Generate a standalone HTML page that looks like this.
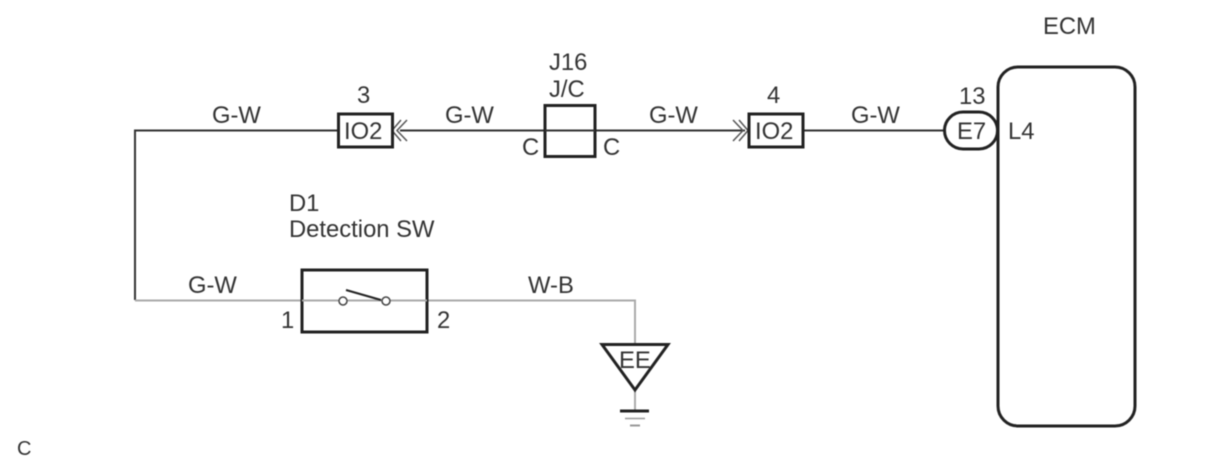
<!DOCTYPE html>
<html><head><meta charset="utf-8"><style>
html,body{margin:0;padding:0;background:#fff}
svg{display:block;filter:blur(0.45px)}
text{font-family:"Liberation Sans",sans-serif;font-size:23.8px;fill:#333}
</style></head><body>
<svg width="1210" height="466" viewBox="0 0 1210 466" xmlns="http://www.w3.org/2000/svg">
<g fill="none" stroke="#333" stroke-width="2">
<path d="M338 130.500H135V300"/>
<path d="M400 130.500H545M595 130.500H745"/>
<path d="M803 130.500H944"/>
</g>
<g fill="none" stroke="#aaa" stroke-width="2">
<path d="M135 300.500H302M427 300.500H635V345"/>
<path d="M635 390V410"/>
</g>
<g fill="none" stroke="#555" stroke-width="1.500">
<path d="M407 120L397 130.500L407 141M401 120L392 130.500L401 141"/>
<path d="M733 120L743 130.500L733 141M739 120L748 130.500L739 141"/>
</g>
<rect x="944.500" y="112" width="53" height="37" rx="18.500" fill="#fff" stroke="#222" stroke-width="3"/>
<g fill="none" stroke="#222" stroke-width="3">
<rect x="338.500" y="114" width="54" height="33" fill="#fff"/>
<rect x="749" y="114" width="54" height="33" fill="#fff"/>
<rect x="998" y="67" width="137" height="359" rx="20"/>
</g>
<rect x="545" y="105.500" width="50" height="51" fill="none" stroke="#222" stroke-width="3"/>
<path d="M545 130.500H595" stroke="#333" stroke-width="2"/>
<rect x="302" y="270" width="125" height="62" fill="none" stroke="#222" stroke-width="3"/>
<path d="M302 300.500H427" stroke="#aaa" stroke-width="2"/>
<circle cx="343" cy="301" r="4" fill="#fff" stroke="#444" stroke-width="1.500"/>
<circle cx="386" cy="301" r="4" fill="#fff" stroke="#444" stroke-width="1.500"/>
<path d="M346 290L381 300" stroke="#222" stroke-width="2"/>
<path d="M602 344.500H668L635 390Z" fill="#fff" stroke="#222" stroke-width="3"/>
<path d="M620 411H649" stroke="#222" stroke-width="3"/>
<path d="M625 418.500H645" stroke="#999" stroke-width="1.500"/>
<path d="M630 425.500H640" stroke="#999" stroke-width="2"/>
<text x="212" y="123">G-W</text>
<text x="445" y="123">G-W</text>
<text x="649" y="123">G-W</text>
<text x="851" y="123">G-W</text>
<text x="188" y="293">G-W</text>
<text x="528" y="293">W-B</text>
<text x="357" y="103">3</text>
<text x="767" y="103">4</text>
<text x="959" y="104">13</text>
<text x="549" y="70">J16</text>
<text x="549" y="97">J/C</text>
<text x="344" y="139">IO2</text>
<text x="755" y="139">IO2</text>
<text x="957" y="139">E7</text>
<text x="1008" y="139">L4</text>
<text x="522" y="155">C</text>
<text x="603" y="155">C</text>
<text x="1043" y="34">ECM</text>
<text x="289" y="211">D1</text>
<text x="289" y="237">Detection SW</text>
<text x="281" y="328">1</text>
<text x="437" y="328">2</text>
<text x="619" y="368">EE</text>
<text x="17" y="455" style="font-size:20px">C</text>
</svg>
</body></html>
